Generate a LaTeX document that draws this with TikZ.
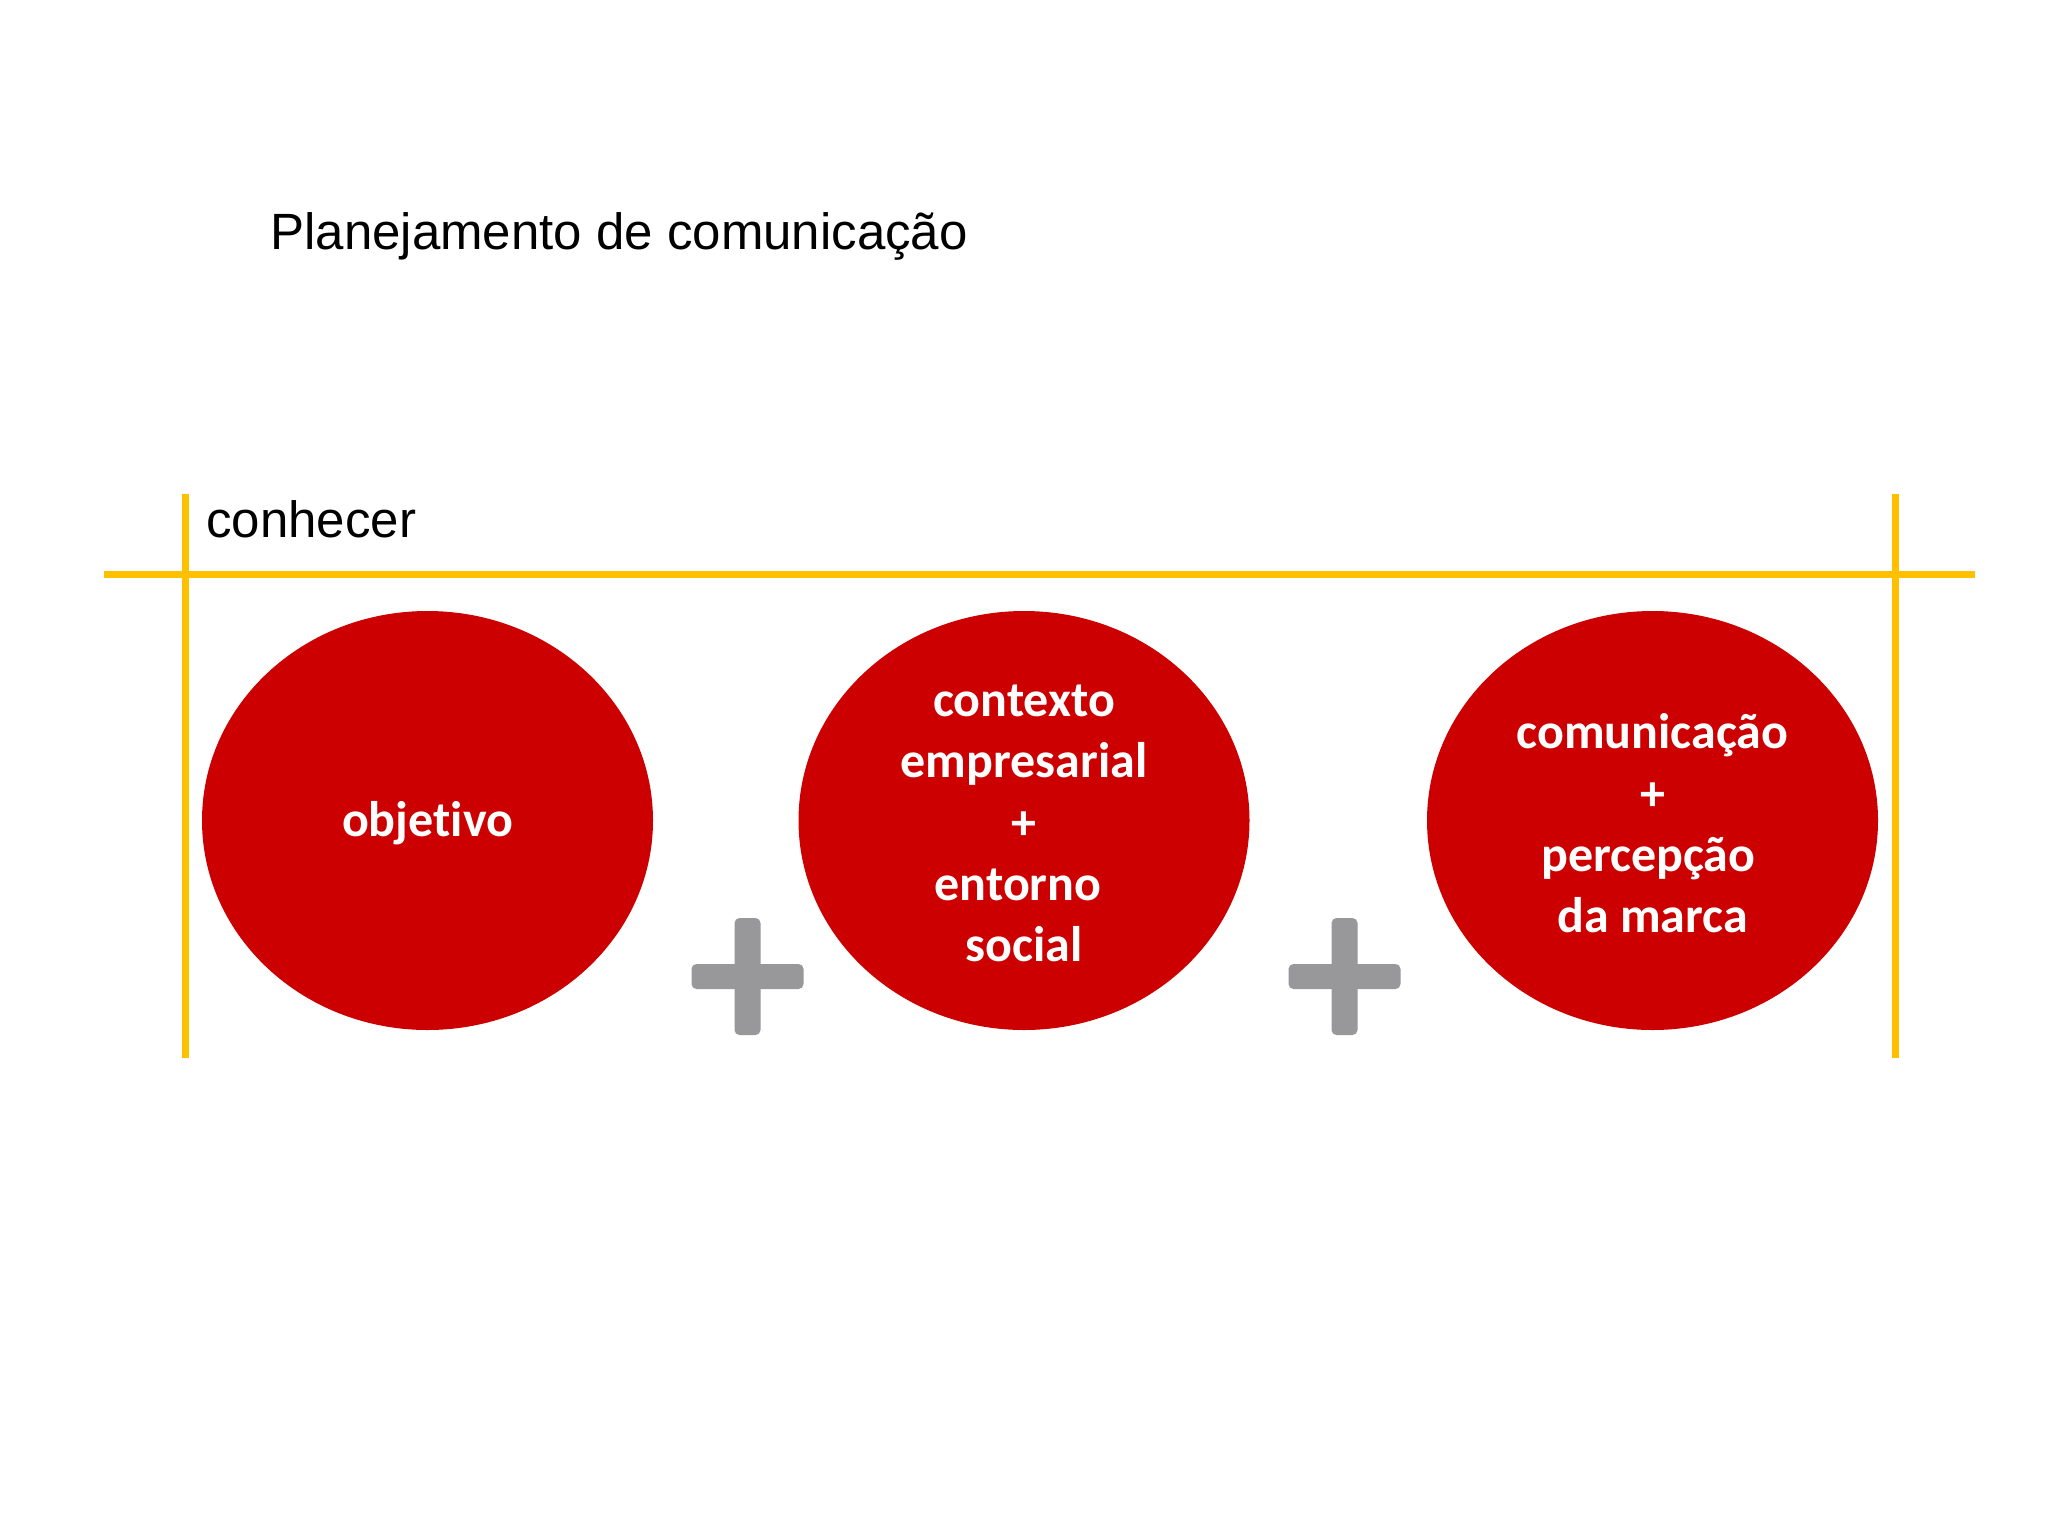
\documentclass[tikz,border=0pt]{standalone}
\usepackage{fontspec}
\setmainfont{Liberation Sans}
\newfontfamily\calib[Ligatures=NoCommon]{Carlito}
\usetikzlibrary{shapes.geometric}
\definecolor{ovalred}{HTML}{CC0000}
\definecolor{baryellow}{HTML}{FFC000}
\definecolor{plusgray}{HTML}{98979A}
\tikzset{
  oval/.style={ellipse, fill=ovalred, draw=none, inner sep=0pt, minimum width=225.5pt, minimum height=209.5pt},
  ovaltext/.style={text=white, font=\calib\bfseries\fontsize{25pt}{30.7pt}\selectfont, align=center, inner sep=0pt},
  yline/.style={draw=baryellow, line width=3.5pt},
  plusbar/.style={fill=plusgray, draw=none, rounded corners=2.5pt},
  labeltext/.style={font=\fontsize{25.5pt}{30pt}\selectfont, inner sep=0pt, anchor=base west}
}
\begin{document}
\begin{tikzpicture}[x=0.5pt, y=-0.5pt]
\useasboundingbox[fill=white] (0,0) rectangle (2048,1536);
% title
\node[labeltext] (title) at (270,249.5) {Planejamento de comunicação};
\node[labeltext] (conhecer) at (206,537) {conhecer};
% yellow frame lines
\coordinate (hl) at (104,574);
\coordinate (hr) at (1975,574);
\coordinate (vlt) at (185,494);
\coordinate (vlb) at (185,1058);
\coordinate (vrt) at (1895,494);
\coordinate (vrb) at (1895,1058);
\draw[yline] (hl) -- (hr);
\draw[yline] (vlt) -- (vlb);
\draw[yline] (vrt) -- (vrb);
% ovals
\node[oval] (o1) at (427.5,820.5) {};
\node[oval] (o2) at (1024,820.5) {};
\node[oval] (o3) at (1652.5,820.5) {};
\node[ovaltext] (t1) at ([yshift=-1.5pt]o1.center) {objetivo};
\node[ovaltext] (t2) at ([yshift=-1.5pt]o2.center) {contexto\\empresarial\\+\\entorno\rule{6pt}{0pt}\\social};
\node[ovaltext] (t3) at ([yshift=-1.5pt]o3.center) {comunicação\\+\\percepção\rule{4pt}{0pt}\\da marca};
% plus signs
\foreach \cx/\nm in {747.5/p1, 1344.5/p2}{
  \coordinate (\nm) at (\cx,976.5);
  \fill[plusbar] (\cx-56,964) rectangle (\cx+56,989);
  \fill[plusbar] (\cx-13,918) rectangle (\cx+13,1035);
}
\end{tikzpicture}
\end{document}
